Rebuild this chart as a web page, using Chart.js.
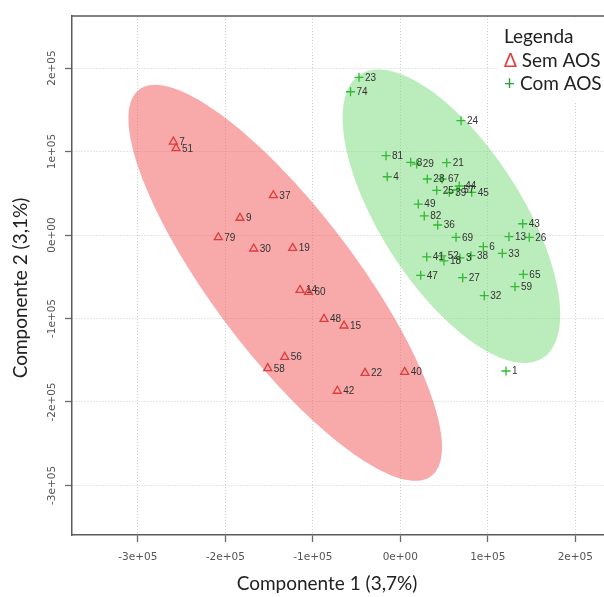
<!DOCTYPE html>
<html>
<head>
<meta charset="utf-8">
<script src="https://cdn.jsdelivr.net/npm/chart.js@4/dist/chart.umd.min.js"></script>
<style>
  html, body { margin: 0; padding: 0; background: #fff; overflow: hidden; width: 604px; height: 597px; }
  canvas { display: block; }
</style>
</head>
<body>
<canvas id="c" width="640" height="597"></canvas>
<script>
// Samples without AOS (triangles)
const semLabels = ['7', '51', '37', '9', '79', '30', '19', '14', '60', '48', '15', '56', '58', '22', '40', '42'];
const semX = [-259400, -256300, -145100, -183200, -208000, -167500, -123000, -114600, -104900, -87200, -64300, -132100, -151500, -40300, 5000, -72000];
const semY = [111700, 103800, 47500, 20400, -2800, -16400, -15600, -65900, -68400, -100600, -108600, -146100, -159600, -165300, -164100, -186800];

// Samples with AOS (crosses)
const comLabels = ['23', '74', '24', '81', '4', '8', '29', '21', '28', '67', '25', '39', '57', '44', '45', '49', '82', '36', '69', '43', '13', '26', '6', '33', '38', '41', '52', '18', '3', '47', '27', '65', '59', '32', '1'];
const comX = [-47200, -56900, 69400, -16300, -14900, 11900, 18700, 53000, 30900, 47700, 41600, 56000, 65100, 67400, 81600, 20600, 27400, 42700, 63700, 139900, 124200, 147400, 94900, 116600, 80800, 30200, 47300, 49900, 68200, 23300, 71300, 140600, 131100, 96000, 120800];
const comY = [188900, 171600, 136900, 95000, 69800, 87100, 85000, 86600, 67100, 67100, 53500, 51100, 53900, 58700, 51100, 37100, 22800, 12000, -2800, 13500, -2000, -2800, -14000, -21900, -24800, -26300, -25100, -31100, -27500, -48300, -51100, -47100, -61900, -72700, -162900];

// Axis ticks
const xTicks = [-300000, -200000, -100000, 0, 100000, 200000];
const xTickLabels = ['-3e+05', '-2e+05', '-1e+05', '0e+00', '1e+05', '2e+05'];
const yTicks = [-300000, -200000, -100000, 0, 100000, 200000];
const yTickLabels = ['-3e+05', '-2e+05', '-1e+05', '0e+00', '1e+05', '2e+05'];

// Confidence level of the group ellipses
const ellipseLevel = 0.95;

const RED = '#e23b3b';
const GREEN = '#33b933';
const TEXT = '#333333';
const TITLE_FONT = '"Lato", "Open Sans", sans-serif';

// Normal-theory data ellipse of one group (mean, covariance, chi-square radius)
function dataEllipse(xs, ys, level) {
  const n = xs.length;
  const mx = xs.reduce((a, b) => a + b, 0) / n;
  const my = ys.reduce((a, b) => a + b, 0) / n;
  let sxx = 0, syy = 0, sxy = 0;
  for (let i = 0; i < n; i++) {
    const dx = xs[i] - mx, dy = ys[i] - my;
    sxx += dx * dx; syy += dy * dy; sxy += dx * dy;
  }
  sxx /= n - 1; syy /= n - 1; sxy /= n - 1;
  const r = Math.sqrt(-2 * Math.log(1 - level));
  const a = Math.sqrt(sxx);
  const b = sxy / a;
  const c = Math.sqrt(syy - b * b);
  return { mx, my, r, a, b, c };
}

const groupEllipses = {
  id: 'groupEllipses',
  beforeDatasetsDraw(chart) {
    const { ctx, chartArea, scales: { x, y } } = chart;
    const shapes = [
      [dataEllipse(semX, semY, ellipseLevel), 'rgba(242, 85, 85, 0.5)'],
      [dataEllipse(comX, comY, ellipseLevel), 'rgba(119, 217, 119, 0.5)']
    ];
    ctx.save();
    ctx.beginPath();
    ctx.rect(chartArea.left, chartArea.top, chartArea.right - chartArea.left, chartArea.bottom - chartArea.top);
    ctx.clip();
    for (const [e, fill] of shapes) {
      ctx.beginPath();
      const steps = 180;
      for (let i = 0; i <= steps; i++) {
        const t = (i / steps) * Math.PI * 2;
        const vx = e.mx + e.r * e.a * Math.cos(t);
        const vy = e.my + e.r * (e.b * Math.cos(t) + e.c * Math.sin(t));
        const px = x.getPixelForValue(vx);
        const py = y.getPixelForValue(vy);
        if (i === 0) ctx.moveTo(px, py); else ctx.lineTo(px, py);
      }
      ctx.closePath();
      ctx.fillStyle = fill;
      ctx.fill();
    }
    ctx.restore();
  }
};

const pointLabels = {
  id: 'pointLabels',
  afterDatasetsDraw(chart) {
    const { ctx } = chart;
    const sets = [semLabels, comLabels];
    ctx.save();
    ctx.font = '10px "Liberation Sans", Arial, sans-serif';
    ctx.fillStyle = TEXT;
    ctx.textAlign = 'left';
    ctx.textBaseline = 'middle';
    sets.forEach((labels, di) => {
      chart.getDatasetMeta(di).data.forEach((pt, i) => {
        ctx.fillText(labels[i], pt.x + 6, pt.y + 0.5);
      });
    });
    ctx.restore();
  }
};

const frameAndText = {
  id: 'frameAndText',
  afterDraw(chart) {
    const { ctx, chartArea, scales: { x, y } } = chart;
    ctx.save();
    // top edge of the box
    ctx.strokeStyle = '#5a5a5a';
    ctx.lineWidth = 1.5;
    ctx.beginPath();
    ctx.moveTo(chartArea.left, chartArea.top);
    ctx.lineTo(chartArea.right, chartArea.top);
    ctx.stroke();

    // tick labels
    ctx.fillStyle = '#555';
    ctx.font = '10.5px "DejaVu Sans", sans-serif';
    ctx.textAlign = 'center';
    ctx.textBaseline = 'middle';
    xTicks.forEach((v, i) => {
      ctx.fillText(xTickLabels[i], x.getPixelForValue(v), chartArea.bottom + 22);
    });
    yTicks.forEach((v, i) => {
      ctx.save();
      ctx.translate(chartArea.left - 20, y.getPixelForValue(v));
      ctx.rotate(-Math.PI / 2);
      ctx.fillText(yTickLabels[i], 0, 0);
      ctx.restore();
    });

    // axis titles
    ctx.fillStyle = '#222';
    ctx.font = '19px ' + TITLE_FONT;
    ctx.fillText('Componente 1 (3,7%)', 327, 584);
    ctx.save();
    ctx.translate(21, 288);
    ctx.rotate(-Math.PI / 2);
    ctx.fillText('Componente 2 (3,1%)', 0, 0);
    ctx.restore();

    // legend
    ctx.fillStyle = '#fff';
    ctx.fillRect(497, chartArea.top + 1, 150, 84);
    ctx.textAlign = 'left';
    ctx.font = '19px ' + TITLE_FONT;
    ctx.fillStyle = '#222';
    ctx.fillText('Legenda', 504, 37);
    ctx.fillStyle = RED;
    ctx.fillText('\u0394', 504, 61);
    const dw = ctx.measureText('\u0394 ').width;
    ctx.fillStyle = '#222';
    ctx.fillText('Sem AOS', 504 + dw, 61);
    ctx.fillStyle = '#2a9d3a';
    ctx.fillText('+', 504, 84);
    const pw = ctx.measureText('+ ').width;
    ctx.fillStyle = '#222';
    ctx.fillText('Com AOS', 504 + pw, 84);
    ctx.restore();
  }
};

const gridStyle = {
  color: '#cfcfcf',
  lineWidth: 1,
  drawTicks: true,
  tickLength: 7,
  tickColor: '#6a6a6a',
  tickWidth: 1.3,
  tickBorderDash: []
};

new Chart(document.getElementById('c'), {
  type: 'scatter',
  data: {
    datasets: [
      {
        label: 'Sem AOS',
        data: semX.map((v, i) => ({ x: v, y: semY[i] })),
        pointStyle: 'triangle',
        pointRadius: 4.6,
        borderColor: RED,
        backgroundColor: 'rgba(0,0,0,0)',
        borderWidth: 1.3
      },
      {
        label: 'Com AOS',
        data: comX.map((v, i) => ({ x: v, y: comY[i] })),
        pointStyle: 'cross',
        pointRadius: 4.5,
        borderColor: GREEN,
        backgroundColor: GREEN,
        borderWidth: 1.3
      }
    ]
  },
  options: {
    responsive: false,
    animation: false,
    devicePixelRatio: 1,
    layout: { padding: { top: 16, right: 20, left: 0, bottom: 0 } },
    plugins: { legend: { display: false }, tooltip: { enabled: false } },
    scales: {
      x: {
        type: 'linear',
        min: -375200,
        max: 251100,
        afterBuildTicks: s => { s.ticks = xTicks.map(v => ({ value: v })); },
        afterFit: s => { s.height = 62; },
        ticks: { display: false },
        grid: gridStyle,
        border: { display: true, color: '#5a5a5a', width: 1.5, dash: [1, 2] }
      },
      y: {
        type: 'linear',
        min: -359300,
        max: 262300,
        afterBuildTicks: s => { s.ticks = yTicks.map(v => ({ value: v })); },
        afterFit: s => { s.width = 72; },
        ticks: { display: false },
        grid: gridStyle,
        border: { display: true, color: '#5a5a5a', width: 1.5, dash: [1, 2] }
      }
    }
  },
  plugins: [groupEllipses, pointLabels, frameAndText]
});
</script>
</body>
</html>
